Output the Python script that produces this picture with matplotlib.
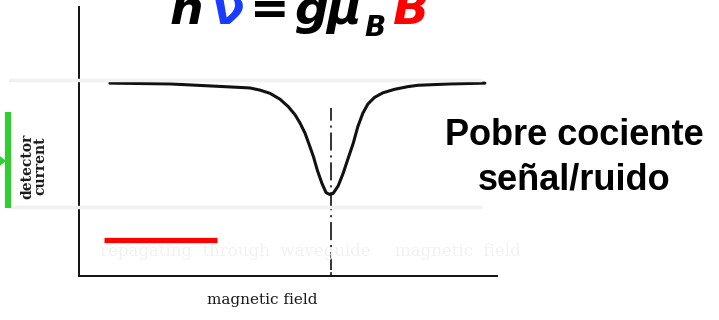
import matplotlib
matplotlib.use("Agg")
import matplotlib.pyplot as plt
from matplotlib.patches import Polygon

plt.rcParams['lines.scale_dashes'] = False

# absorption dip (field and detector current, arbitrary units)
field = [0.74, 2.18, 3.85, 4.09, 4.33, 4.57, 4.81, 5.01, 5.17, 5.29, 5.41, 5.51,
         5.61, 5.70, 5.81, 5.91, 6.00, 6.08, 6.20, 6.32, 6.44, 6.56, 6.67, 6.79,
         6.91, 7.07, 7.27, 7.55, 7.87, 8.11, 8.88, 9.71]
current = [7.17, 7.14, 7.01, 6.99, 6.91, 6.79, 6.57, 6.29, 5.99, 5.68, 5.30, 4.87,
           4.43, 3.94, 3.45, 3.10, 3.03, 3.07, 3.35, 3.82, 4.38, 4.93, 5.55, 6.05,
           6.39, 6.64, 6.81, 6.94, 7.04, 7.09, 7.14, 7.17]

resonance_field = 6.03
resonance_span = [0.22, 6.25]
baseline_marker = [0.60, 3.30]   # red bar under the trace
baseline_level = 1.34

W, H = 719, 320
fig = plt.figure(figsize=(W / 100, H / 100), dpi=100)
fig.patch.set_facecolor('white')

def px(x, y):
    return x / W, 1 - y / H

# faint show-through from the scanned page
ghost = '#f1f1f1'
for yy in [80, 207]:
    fig.add_artist(plt.Line2D([10 / W, 480 / W], [1 - yy / H] * 2, color=ghost, lw=2.5))
fig.text(*px(100, 256), 'repagating  through  waveguide', color='#f2f2f2',
         family='DejaVu Serif', fontsize=12, va='baseline')
fig.text(*px(395, 256), 'magnetic  field', color='#f2f2f2',
         family='DejaVu Serif', fontsize=12, va='baseline')

ax = fig.add_axes([79 / W, 44 / H, 418 / W, 269 / H])
ax.set_xlim(0, 10)
ax.set_ylim(0, 10)
ax.set_facecolor('none')
for s in ['top', 'right']:
    ax.spines[s].set_visible(False)
for s in ['left', 'bottom']:
    ax.spines[s].set_linewidth(1.4)
    ax.spines[s].set_color('#111111')
ax.set_xticks([])
ax.set_yticks([])

ax.plot(field, current, color='#111111', lw=2.2, solid_capstyle='round',
        solid_joinstyle='round')
ax.plot([resonance_field] * 2, resonance_span, color='#111111', lw=1.2,
        dashes=(13, 3.5, 1.5, 3.5))
ax.plot([resonance_field] * 2, [0, 0.12], color='#111111', lw=1.2)
ax.plot(baseline_marker, [baseline_level] * 2, color='#ff0000', lw=3.8,
        solid_capstyle='butt')

fig.text(*px(207, 300), 'magnetic field', family='DejaVu Serif', fontsize=11,
         color='#1a1a1a', va='center', ha='left')
fig.text(*px(34, 166), 'detector\ncurrent', family='DejaVu Serif', fontsize=10,
         color='#1a1a1a', rotation=90, va='center', ha='center',
         linespacing=0.95, fontweight='bold')

# green bracket and arrow tip on the left edge
fig.add_artist(plt.Line2D([8 / W, 8 / W], [1 - 112 / H, 1 - 208 / H],
                          color='#33cc33', lw=4.5, solid_capstyle='butt'))
fig.add_artist(Polygon([px(-4, 154), px(5, 161), px(-4, 168)], closed=True,
                       transform=fig.transFigure, color='#33cc33', clip_on=False))

# resonance condition
tfont = dict(family='DejaVu Sans', fontsize=34, fontweight='bold', style='italic',
             va='baseline', ha='left')
fig.text(*px(170, 24), 'h', color='black', **tfont)
fig.text(*px(212, 24), 'ν', color='#1a3cff', **tfont)
fig.text(*px(250, 24), '=', color='black', **tfont)
fig.text(*px(294, 24), 'g', color='black', **tfont)
fig.text(*px(326, 24), 'μ', color='black', **tfont)
fig.text(*px(364, 36), 'B', color='black', **dict(tfont, fontsize=20))
fig.text(*px(393, 24), 'B', color='#ff0000', **tfont)

rfont = dict(family='Liberation Sans', fontsize=26, fontweight='bold',
             ha='center', va='baseline', color='black')
fig.text(*px(574, 145), 'Pobre cociente', **rfont)
fig.text(*px(574, 190), 'señal/ruido', **rfont)

fig.savefig('out.png', dpi=100, facecolor='white')
